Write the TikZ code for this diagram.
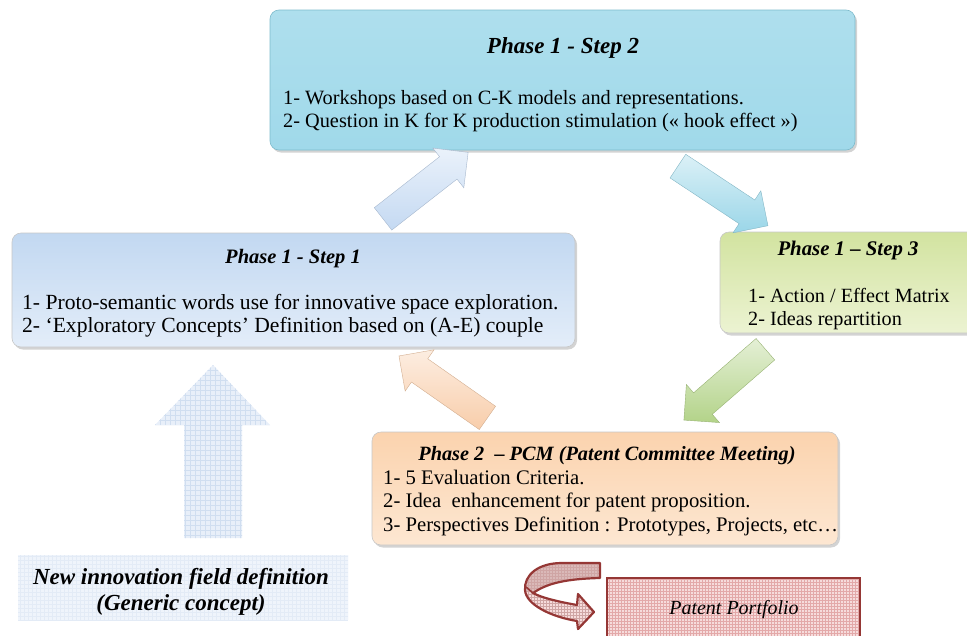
\documentclass[tikz,border=0pt]{standalone}
\usepackage{fontspec}
\setmainfont{Liberation Serif}
\usetikzlibrary{shapes.arrows,shadows}
\definecolor{cyanbox}{HTML}{A0D9EA}
\definecolor{cyanedge}{HTML}{7DBBCC}
\definecolor{bluetop}{HTML}{C2D8F1}
\definecolor{bluebot}{HTML}{E3EDF9}
\definecolor{greentop}{HTML}{D2E3A0}
\definecolor{greenbot}{HTML}{ECF3D2}
\definecolor{peachtop}{HTML}{FBD3AE}
\definecolor{peachbot}{HTML}{FDE7D2}
\definecolor{aone}{HTML}{C4D9F2}
\definecolor{atwo}{HTML}{9AD6E8}
\definecolor{athree}{HTML}{B3D389}
\definecolor{afour}{HTML}{F8CDAA}
\definecolor{gridblue}{HTML}{E8EFF9}
\definecolor{gridline}{HTML}{D0DEF0}
\definecolor{darkred}{HTML}{953735}
\definecolor{pinkfill}{HTML}{F6DCDC}
\definecolor{pinkline}{HTML}{E3A9A9}
\begin{document}
\begin{tikzpicture}[x=1pt,y=-1pt,
  phasebox/.style={rounded corners=9pt, draw=black!22, line width=0.6pt,
    drop shadow={opacity=0.35, shadow xshift=2pt, shadow yshift=-2.5pt}},
  ttl/.style={font=\fontsize{20}{23}\selectfont\bfseries\itshape, inner sep=0pt, anchor=base},
  bdy/.style={font=\fontsize{20.3}{23}\selectfont, inner sep=0pt, anchor=base west},
  fat/.style={shape=single arrow, inner sep=0pt, inner ysep=14pt, single arrow head extend=11pt,
    minimum height=108pt, top color=#1!35, bottom color=#1, draw=#1!85!black, line width=0.4pt},
  gline/.style={draw=gridline, line width=0.35pt},
  pline/.style={draw=pinkline, line width=0.35pt}
]
\useasboundingbox (0,0) rectangle (967,635);

% ---------- boxes ----------
\node[phasebox, top color=cyanbox!85!white, bottom color=cyanbox, draw=cyanedge,
  minimum width=585pt, minimum height=140pt] (s2) at (562.5,80) {};
\node[phasebox, top color=bluetop, bottom color=bluebot,
  minimum width=563pt, minimum height=114pt] (s1) at (293.5,290) {};
\node[phasebox, top color=greentop, bottom color=greenbot,
  minimum width=260pt, minimum height=101pt] (s3) at (850,282.5) {};
\node[phasebox, top color=peachtop, bottom color=peachbot,
  minimum width=466pt, minimum height=113pt] (p2) at (605,488.5) {};

% ---------- texts ----------
\node[ttl, font=\fontsize{23}{26}\selectfont\bfseries\itshape] (s2t) at (563,53) {Phase 1 - Step 2};
\node[bdy] (s2a) at (283,104) {1- Workshops based on C-K models and representations.};
\node[bdy] (s2b) at (283,127) {2- Question in K for K production stimulation (« hook effect »)};

\node[ttl, font=\fontsize{20.5}{23}\selectfont\bfseries\itshape] (s1t) at (293,263) {Phase 1 - Step 1};
\node[bdy, font=\fontsize{21.6}{24}\selectfont] (s1a) at (22,309) {1- Proto-semantic words use for innovative space exploration.};
\node[bdy, font=\fontsize{21.6}{24}\selectfont] (s1b) at (22,332) {2- ‘Exploratory Concepts’ Definition based on (A-E) couple};

\node[ttl, font=\fontsize{20.8}{23}\selectfont\bfseries\itshape] (s3t) at (848,255) {Phase 1 – Step 3};
\node[bdy, font=\fontsize{20.2}{23}\selectfont] (s3a) at (748,302) {1- Action / Effect Matrix};
\node[bdy, font=\fontsize{20.2}{23}\selectfont] (s3b) at (748,325) {2- Ideas repartition};

\node[ttl, font=\fontsize{20.3}{23}\selectfont\bfseries\itshape] (p2t) at (607,460) {Phase 2 \ – PCM (Patent Committee Meeting)};
\node[bdy, font=\fontsize{20.7}{23}\selectfont] (p2a) at (383,484) {1- 5 Evaluation Criteria.};
\node[bdy, font=\fontsize{20.7}{23}\selectfont] (p2b) at (383,507) {2- Idea \ enhancement for patent proposition.};
\node[bdy, font=\fontsize{20.7}{23}\selectfont] (p2c) at (383,531) {3- Perspectives Definition : Prototypes, Projects, etc…};

% ---------- fat arrows ----------
\node[fat=aone, rotate=38] (a1) at (420,190) {};
\node[fat=atwo, rotate=-33.5] (a2) at (717,192) {};
\node[fat=athree, rotate=-139] (a3) at (730,380) {};
\node[fat=afour, rotate=145] (a4) at (449,391) {};

% ---------- big up arrow ----------
\begin{scope}
  \clip (213,365) -- (270,425) -- (242,425) -- (242,538) -- (184,538) -- (184,425) -- (155,425) -- cycle;
  \fill[gridblue] (150,360) rectangle (275,540);
  \draw[gline] (150,360) grid[step=5pt] (275,540);
\end{scope}

% ---------- new innovation field ----------
\begin{scope}
  \clip (18,555) rectangle (348,620);
  \fill[gridblue!70!white] (18,555) rectangle (348,620);
  \draw[gline, draw=gridline!60] (18,555) grid[step=4pt] (348,620);
\end{scope}
\node[font=\fontsize{23}{26}\selectfont\bfseries\itshape, inner sep=0pt, anchor=base] (nf1) at (181,584) {New innovation field definition};
\node[font=\fontsize{23}{26}\selectfont\bfseries\itshape, inner sep=0pt, anchor=base] (nf2) at (181,610) {(Generic concept)};

% ---------- patent portfolio ----------
\begin{scope}
  \clip (607,578) rectangle (860,640);
  \fill[pinkfill] (607,578) rectangle (860,640);
  \draw[pline] (607,578) grid[step=3pt] (860,640);
\end{scope}
\draw[darkred, line width=2.4pt] (607,640) -- (607,578) -- (860,578) -- (860,640);
\node[font=\fontsize{20}{22}\selectfont\itshape, inner sep=0pt, anchor=base] (pp) at (734,614) {Patent Portfolio};

% ---------- curved arrow ----------
\begin{scope}
  \clip (600,563) -- (562,563) .. controls (538,563) and (524,575) .. (525,590)
    .. controls (526,605) and (552,617) .. (577,621) -- (578,629) -- (594,612) -- (578,594) -- (577,605)
    .. controls (560,602) and (542,598) .. (533,593)
    .. controls (545,585) and (560,579) .. (600,578) -- cycle;
  \fill[pinkfill] (520,555) rectangle (605,632);
  \fill[darkred!35] (520,555) -- (605,555) -- (605,578) -- (533,593) -- (520,590) -- cycle;
  \draw[pline, draw=darkred!45] (520,555) grid[step=3pt] (605,632);
\end{scope}
\draw[darkred, line width=2.2pt, line join=round]
  (600,563) -- (562,563) .. controls (538,563) and (524,575) .. (525,590)
    .. controls (526,605) and (552,617) .. (577,621) -- (578,629) -- (594,612) -- (578,594) -- (577,605)
    .. controls (560,602) and (542,598) .. (533,593)
    .. controls (545,585) and (560,579) .. (600,578) -- cycle;
\draw[darkred, line width=1.6pt] (526,587) -- (533,593);
\end{tikzpicture}
\end{document}
